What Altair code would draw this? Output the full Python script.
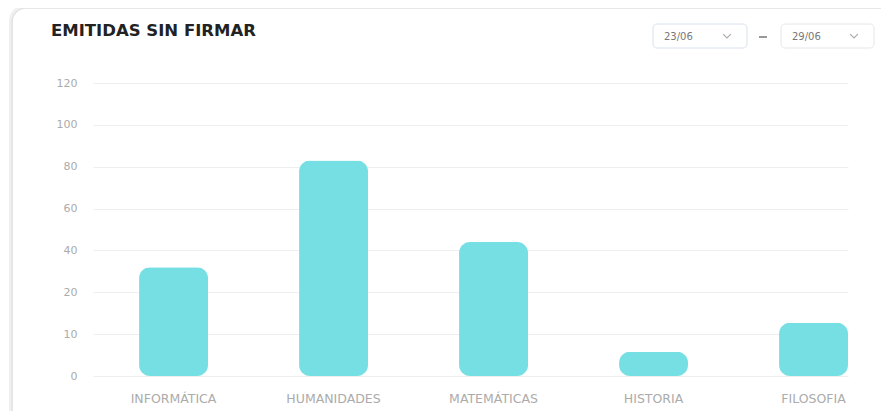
import altair as alt
import pandas as pd

# ---- data ----
categories = ["INFORMÁTICA", "HUMANIDADES", "MATEMÁTICAS", "HISTORIA", "FILOSOFIA"]
values = [32, 83, 44, 5.8, 12.7]
y_ticks = [0, 10, 20, 40, 60, 80, 100, 120]
title_text = ["EMITIDAS SIN FIRMAR"]
date_from = ["23/06"]
date_to = ["29/06"]

W, H = 755, 293
BAR = "#75dfe4"
LABEL = "#ababab"

df = pd.DataFrame({"cat": categories, "val": values})
one = pd.DataFrame({"k": [0]})

# piecewise y scale: ticks equally spaced
y_range = [H - i * H / (len(y_ticks) - 1) for i in range(len(y_ticks))]

bars = alt.Chart(df).mark_bar(cornerRadius=11, color=BAR).encode(
    x=alt.X("cat:N", sort=categories, title=None,
            scale=alt.Scale(paddingInner=0.569, paddingOuter=0.1439, align=1),
            axis=alt.Axis(labelAngle=0, ticks=False, domain=False, labelPadding=16,
                          labelColor=LABEL, labelFontSize=12.5, labelFont="DejaVu Sans")),
    y=alt.Y("val:Q", title=None,
            scale=alt.Scale(domain=y_ticks, range=y_range, nice=False, zero=False),
            axis=alt.Axis(values=y_ticks, ticks=False, domain=False, labelPadding=16,
                          labelColor=LABEL, labelFontSize=11, labelFont="DejaVu Sans",
                          gridColor="#eeeeee", gridWidth=1)),
)

shadow = alt.Chart(one).mark_rect(cornerRadius=14, fill="transparent", stroke="#f0f0f0", strokeWidth=4).encode(
    x=alt.value(-82), x2=alt.value(900), y=alt.value(-76), y2=alt.value(400)
)
card = alt.Chart(one).mark_rect(cornerRadius=14, fill="transparent", stroke="#e0e0e0", strokeWidth=1.2).encode(
    x=alt.value(-81), x2=alt.value(900), y=alt.value(-75), y2=alt.value(400)
)

title = alt.Chart(pd.DataFrame({"t": title_text})).mark_text(
    align="left", baseline="alphabetic", font="DejaVu Sans", fontWeight="bold",
    fontSize=16.5, color="#222222"
).encode(text="t:N", x=alt.value(-42), y=alt.value(-47))

box1 = alt.Chart(one).mark_rect(cornerRadius=4, fill="#ffffff", stroke="#d9e0ef", strokeWidth=1).encode(
    x=alt.value(560), x2=alt.value(654), y=alt.value(-59), y2=alt.value(-35)
)
box2 = alt.Chart(one).mark_rect(cornerRadius=4, fill="#ffffff", stroke="#e6e6e6", strokeWidth=1).encode(
    x=alt.value(688), x2=alt.value(781), y=alt.value(-59), y2=alt.value(-35)
)
t1 = alt.Chart(pd.DataFrame({"t": date_from})).mark_text(
    align="left", baseline="middle", font="DejaVu Sans", fontSize=10, color="#777777"
).encode(text="t:N", x=alt.value(571), y=alt.value(-46))
t2 = alt.Chart(pd.DataFrame({"t": date_to})).mark_text(
    align="left", baseline="middle", font="DejaVu Sans", fontSize=10, color="#777777"
).encode(text="t:N", x=alt.value(699), y=alt.value(-46))
dash = alt.Chart(one).mark_rule(color="#555555", strokeWidth=1.2).encode(
    x=alt.value(666), x2=alt.value(674), y=alt.value(-46)
)
chev_shape = "M-1,-0.5L0,0.5L1,-0.5"
chev1 = alt.Chart(one).mark_point(shape=chev_shape, filled=False, size=60, color="#8a8a8a", strokeWidth=1.2).encode(
    x=alt.value(634), y=alt.value(-47)
)
chev2 = alt.Chart(one).mark_point(shape=chev_shape, filled=False, size=60, color="#8a8a8a", strokeWidth=1.2).encode(
    x=alt.value(761), y=alt.value(-47)
)

chart = alt.layer(
    shadow, card, title, box1, box2, t1, t2, dash, chev1, chev2, bars
).properties(
    width=W, height=H,
    autosize=alt.AutoSizeParams(type="none"),
    padding={"left": 85, "top": 75, "right": 33, "bottom": 35},
    background="#ffffff",
).configure_view(stroke=None)

chart.save("out.html", embed_options={"renderer": "svg", "actions": False})
